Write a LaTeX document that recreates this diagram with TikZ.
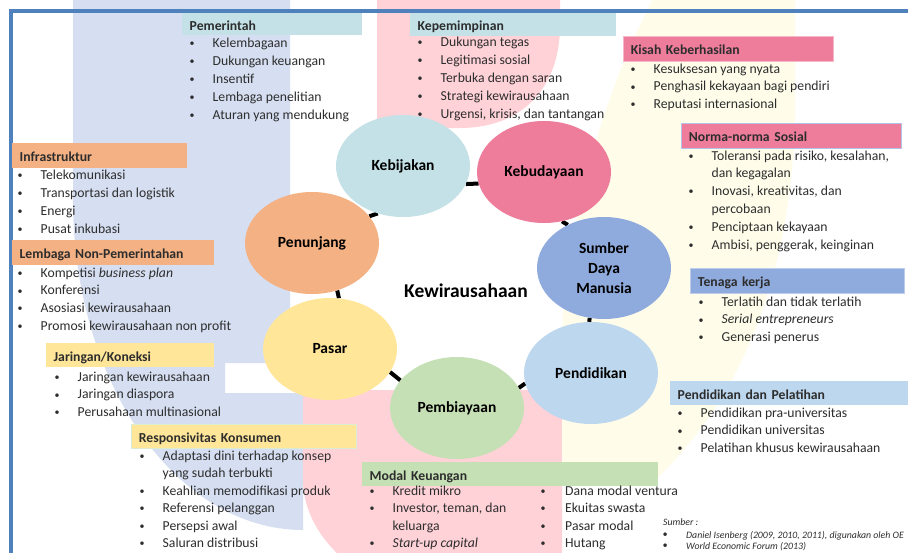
\documentclass[tikz,border=0pt]{standalone}
\usepackage{fontspec}
\setmainfont{Carlito}
\usetikzlibrary{shapes.geometric}
\pgfdeclarelayer{bg}
\pgfdeclarelayer{edge}
\pgfsetlayers{bg,edge,main}
\definecolor{cTeal}{RGB}{195,225,230}
\definecolor{cRose}{RGB}{238,125,156}
\definecolor{cBlue}{RGB}{143,170,220}
\definecolor{cLBlue}{RGB}{189,215,238}
\definecolor{cGreen}{RGB}{197,224,180}
\definecolor{cYellow}{RGB}{255,230,153}
\definecolor{cOrange}{RGB}{244,177,131}
\definecolor{bgBlue}{RGB}{214,223,242}
\definecolor{bgPink}{RGB}{255,210,216}
\definecolor{bgYellow}{RGB}{255,253,234}
\definecolor{frameBlue}{RGB}{79,129,189}
\definecolor{txt}{RGB}{45,45,45}
\newlength\bulw
\setlength\bulw{20.5pt}
\newcommand\bu{\hbox to \bulw{\hbox to 0pt{\hss\raisebox{0.9pt}{\fontsize{10}{10}\selectfont\textbullet}\hss}\hfil}}
\newcommand\blist[1]{\begin{tabular}[t]{@{}l@{}l@{}}#1\end{tabular}}
\newcommand\itmfont{\fontsize{13.7}{17.9}\selectfont}
\newcommand\hdrfont{\bfseries\fontsize{13.7}{16}\selectfont}
\begin{document}
\begin{tikzpicture}[x=1pt,y=-1pt,
  hb/.style={anchor=north west, inner xsep=7.5pt, inner ysep=0pt, align=left, text height=12pt, text depth=0pt, font=\hdrfont, text=txt},
  lst/.style={anchor=base west, inner sep=0pt, font=\itmfont, text=txt},
  ell/.style={ellipse, minimum width=134pt, minimum height=102pt, inner sep=0pt, align=center, font=\bfseries\fontsize{15.5}{20}\selectfont, text=black},
  conn/.style={line width=4pt, black}]
\useasboundingbox (0,0) rectangle (908,552);
\begin{pgfonlayer}{bg}
\fill[white] (0,0) rectangle (908,552);
\fill[bgBlue] (73,-5) -- (290,-5) -- (290,363) -- (225,363) -- (225,393) -- (303,393) -- (303,530) .. controls (176,530) and (73,382) .. (73,200) -- cycle;
\fill[bgPink] (377,-5) -- (560,-5) -- (560,25) .. controls (560,90) and (520,128) .. (460,128) -- (377,128) -- cycle;
\fill[bgPink] (303,390) -- (562,390) -- (562,560) -- (345,560) .. controls (320,540) and (303,510) .. (303,480) -- cycle;
\fill[bgYellow] (655,-5) -- (795,-5) -- (795,120) .. controls (790,280) and (740,400) .. (655,480) -- (562,480) -- (562,330) .. controls (570,200) and (610,80) .. (655,-5) -- cycle;
\end{pgfonlayer}
\draw[line width=3.5pt, frameBlue] (11,560) -- (11,11) -- (920,11);
% ellipses
\node[ell, fill=cTeal] (kebijakan) at (403,166) {Kebijakan};
\node[ell, fill=cRose] (kebudayaan) at (544,172) {Kebudayaan};
\node[ell, fill=cBlue] (sdm) at (604,268) {Sumber\\Daya\\Manusia};
\node[ell, fill=cLBlue] (pendidikan) at (591,373) {Pendidikan};
\node[ell, fill=cGreen] (pembiayaan) at (457,408) {Pembiayaan};
\node[ell, fill=cYellow] (pasar) at (330,349) {Pasar};
\node[ell, fill=cOrange] (penunjang) at (312,243) {Penunjang};
\node[font=\bfseries\fontsize{19.5}{22}\selectfont, text=black] (center) at (466,291) {Kewirausahaan};
\begin{pgfonlayer}{edge}
\draw[conn] (kebijakan.-16) -- (kebudayaan.190);
\draw[conn] (kebudayaan.290) -- (sdm.130);
\draw[conn] (sdm.254) -- (pendidikan.92);
\draw[conn] (pendidikan.189) -- (pembiayaan.18);
\draw[conn] (pembiayaan.154) -- (pasar.339);
\draw[conn] (pasar.80) -- (penunjang.298);
\draw[conn] (penunjang.25) -- (kebijakan.242);
\end{pgfonlayer}
% headers
\node[hb, fill=cTeal, text width=165pt, minimum height=22pt] (pemH) at (182,13) {Pemerintah};
\node[hb, fill=cTeal, text width=191pt, minimum height=23pt] (kepH) at (410,13) {Kepemimpinan};
\node[hb, fill=cRose, draw=cRose!55!white, line width=0.8pt, text width=195pt, minimum height=25pt] (kisH) at (623,36) {Kisah Keberhasilan};
\node[hb, fill=cRose, draw=cBlue!70!white, line width=0.8pt, text width=205pt, minimum height=25pt] (normH) at (681,123) {Norma-norma Sosial};
\node[hb, fill=cBlue, draw=cBlue!60!white, line width=0.8pt, text width=199pt, minimum height=25pt] (tenH) at (690,268) {Tenaga kerja};
\node[hb, fill=cLBlue, text width=227pt, minimum height=24pt] (pendH) at (670,381) {Pendidikan dan Pelatihan};
\node[hb, fill=cGreen, text width=281pt, minimum height=24pt] (modH) at (362,462) {Modal Keuangan};
\node[hb, fill=cYellow, draw=cGreen!60!white, line width=0.8pt, text width=210pt, minimum height=24pt] (resH) at (131,424) {Responsivitas Konsumen};
\node[hb, fill=cYellow, text width=153pt, minimum height=24pt] (jarH) at (46,343) {Jaringan/Koneksi};
\node[hb, fill=cOrange, text width=160pt, minimum height=25pt] (infH) at (12,143) {Infrastruktur};
\node[hb, fill=cOrange, text width=187pt, minimum height=25pt] (lemH) at (12,240) {Lembaga Non-Pemerintahan};
% lists
\node[lst] (pemL) at (192,47.5) {\blist{\bu & Kelembagaan\\ \bu & Dukungan keuangan\\ \bu & Insentif\\ \bu & Lembaga penelitian\\ \bu & Aturan yang mendukung}};
\node[lst] (kepL) at (420,46.5) {\blist{\bu & Dukungan tegas\\ \bu & Legitimasi sosial\\ \bu & Terbuka dengan saran\\ \bu & Strategi kewirausahaan\\ \bu & Urgensi, krisis, dan tantangan}};
\node[lst] (kisL) at (633,73) {\blist{\bu & Kesuksesan yang nyata\\ \bu & Penghasil kekayaan bagi pendiri\\ \bu & Reputasi internasional}};
\node[lst] (normL) at (691,160) {\blist{\bu & Toleransi pada risiko, kesalahan,\\ & dan kegagalan\\ \bu & Inovasi, kreativitas, dan\\ & percobaan\\ \bu & Penciptaan kekayaan\\ \bu & Ambisi, penggerak, keinginan}};
\node[lst] (tenL) at (701,306) {\blist{\bu & Terlatih dan tidak terlatih\\ \bu & \textit{Serial entrepreneurs}\\ \bu & Generasi penerus}};
\node[lst] (pendL) at (680,417) {\blist{\bu & Pendidikan pra-universitas\\ \bu & Pendidikan universitas\\ \bu & Pelatihan khusus kewirausahaan}};
\node[lst, font=\fontsize{13.7}{17.5}\selectfont] (modL) at (372,495) {\blist{\bu & Kredit mikro\\ \bu & Investor, teman, dan\\ & keluarga\\ \bu & \textit{Start-up capital}}};
\node[lst, font=\fontsize{13.7}{17.5}\selectfont] (modR) at (543,495) {\setlength\bulw{22pt}\blist{\bu & Dana modal ventura\\ \bu & Ekuitas swasta\\ \bu & Pasar modal\\ \bu & Hutang}};
\node[lst, font=\fontsize{13.7}{17.5}\selectfont] (resL) at (142,460) {\blist{\bu & Adaptasi dini terhadap konsep\\ & yang sudah terbukti\\ \bu & Keahlian memodifikasi produk\\ \bu & Referensi pelanggan\\ \bu & Persepsi awal\\ \bu & Saluran distribusi}};
\node[lst] (jarL) at (57,381) {\blist{\bu & Jaringan kewirausahaan\\ \bu & Jaringan diaspora\\ \bu & Perusahaan multinasional}};
\node[lst] (infL) at (20,179.5) {\blist{\bu & Telekomunikasi\\ \bu & Transportasi dan logistik\\ \bu & Energi\\ \bu & Pusat inkubasi}};
\node[lst] (lemL) at (20,277) {\blist{\bu & Kompetisi \textit{business plan}\\ \bu & Konferensi\\ \bu & Asosiasi kewirausahaan\\ \bu & Promosi kewirausahaan non profit}};
% source
\node[anchor=base west, inner sep=0pt, font=\itshape\fontsize{9.8}{11.5}\selectfont, text=txt] (sumber) at (663,525) {Sumber :};
\node[lst, font=\itshape\fontsize{9.8}{11.7}\selectfont] (sumL) at (665,538) {\setlength\bulw{21pt}\blist{\bu & Daniel Isenberg (2009, 2010, 2011), digunakan oleh OE\\ \bu & World Economic Forum (2013)}};
\end{tikzpicture}
\end{document}
